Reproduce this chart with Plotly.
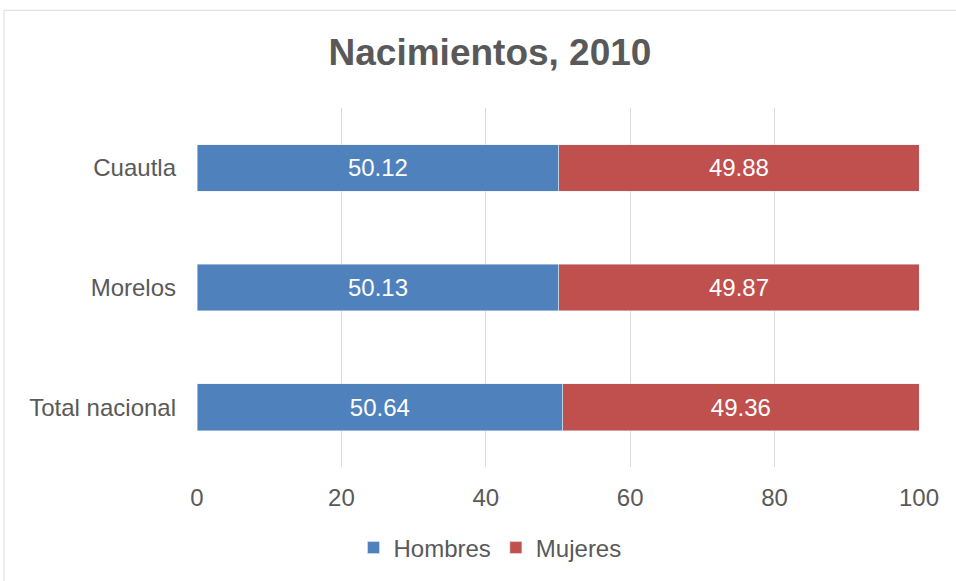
import plotly.graph_objects as go

categorias = ["Total nacional", "Morelos", "Cuautla"]
hombres = [50.64, 50.13, 50.12]
mujeres = [49.36, 49.87, 49.88]
ticks_x = [0, 20, 40, 60, 80, 100]

FONT = "Liberation Sans, Arial, sans-serif"
GRAY = "#595959"

fig = go.Figure()
fig.add_trace(go.Bar(y=categorias, x=hombres, name="Hombres", orientation="h",
                     marker=dict(color="#4f81bd"),
                     text=[f"{v:.2f}" for v in hombres], textposition="inside",
                     insidetextanchor="middle",
                     textfont=dict(color="white", size=24, family=FONT)))
fig.add_trace(go.Bar(y=categorias, x=mujeres, name="Mujeres", orientation="h",
                     marker=dict(color="#c0504d"),
                     text=[f"{v:.2f}" for v in mujeres], textposition="inside",
                     insidetextanchor="middle",
                     textfont=dict(color="white", size=24, family=FONT)))

L, R, T, B = 197, 37, 108, 113
W, H = 956, 581
pw, ph = W - L - R, H - T - B

fig.update_layout(
    barmode="stack",
    bargap=0.61,
    width=W, height=H,
    margin=dict(l=L, r=R, t=T, b=B),
    paper_bgcolor="white", plot_bgcolor="white",
    font=dict(family=FONT, color=GRAY, size=24),
    title=dict(text="<b>Nacimientos, 2010</b>", x=490 / W, xanchor="center",
               y=1 - 52 / H, yanchor="middle",
               font=dict(size=37, color=GRAY, family=FONT)),
    xaxis=dict(range=[0, 100], tickvals=ticks_x, showgrid=True, gridcolor="#d9d9d9",
               gridwidth=1, zeroline=False, showline=False, ticks="",
               ticklabelstandoff=14, tickfont=dict(size=24, color=GRAY)),
    yaxis=dict(showgrid=False, zeroline=False, showline=False, ticks="",
               ticklabelstandoff=20, tickfont=dict(size=24, color=GRAY)),
    legend=dict(orientation="h", x=(490 - L) / pw, xanchor="center",
                y=-(548 - (H - B)) / ph, yanchor="middle",
                font=dict(size=24, color=GRAY), traceorder="normal",
                itemwidth=30),
    showlegend=True,
    shapes=[dict(type="rect", xref="paper", yref="paper",
                 x0=(4 - L) / pw, x1=1 + (R + 10) / pw,
                 y0=-(B + 10) / ph, y1=1 + (T - 10) / ph,
                 line=dict(color="#d9d9d9", width=1), layer="below")],
)

fig.write_html("out.html", config={"displayModeBar": False},
               post_script="document.body.style.margin='0';document.body.style.overflow='hidden';")
